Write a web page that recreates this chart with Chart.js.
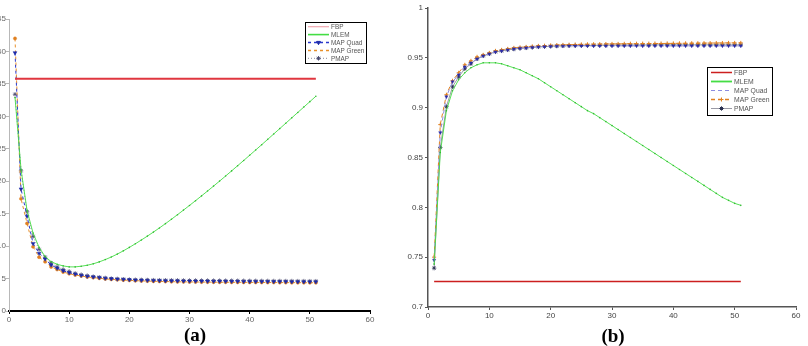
<!DOCTYPE html>
<html>
<head>
<meta charset="utf-8">
<script src="https://cdn.jsdelivr.net/npm/chart.js@4.4.1/dist/chart.umd.min.js"></script>
<style>
  html, body { margin: 0; padding: 0; background: #fff; }
  body { width: 808px; height: 346px; position: relative; overflow: hidden; }
  .cv { position: absolute; top: 0; }
  .lab { position: absolute; font-family: "Liberation Serif", "DejaVu Serif", serif; font-weight: bold; font-size: 19px; color: #000; transform: translate(-50%, -50%); }
</style>
</head>
<body>
<canvas id="chartA" class="cv" width="400" height="346" style="left:-20px;width:400px;height:346px"></canvas>
<canvas id="chartB" class="cv" width="408" height="346" style="left:400px;width:408px;height:346px"></canvas>
<div class="lab" style="left:195px;top:335px">(a)</div>
<div class="lab" style="left:613px;top:336px">(b)</div>
<script>
// ---------------- DATA ----------------
const seriesNames = ["FBP", "MLEM", "MAP Quad", "MAP Green", "PMAP"];
const iterations = [1,2,3,4,5,6,7,8,9,10,11,12,13,14,15,16,17,18,19,20,21,22,23,24,25,26,27,28,29,30,31,32,33,34,35,36,37,38,39,40,41,42,43,44,45,46,47,48,49,50,51];
const fbpRange = [1, 51];

// panel (a)
const fbpA = 35.8;
const mlemA = [32.9,21.8,15.5,12.0,9.8,8.4,7.6,7.2,6.95,6.8,6.8,6.9,7.05,7.27,7.57,7.92,8.32,8.77,9.27,9.8,10.36,10.94,11.54,12.16,12.8,13.46,14.14,14.84,15.55,16.27,17.0,17.74,18.49,19.25,20.02,20.8,21.59,22.39,23.19,24.0,24.81,25.63,26.45,27.28,28.11,28.94,29.77,30.6,31.43,32.26,33.09];
const mapQuadA = [39.8,18.8,14.6,10.4,8.9,8.0,7.1,6.6,6.2,5.9,5.7,5.5,5.35,5.25,5.15,5.05,4.98,4.92,4.87,4.82,4.78,4.75,4.72,4.7,4.68,4.66,4.64,4.63,4.62,4.61,4.6,4.6,4.59,4.58,4.58,4.57,4.56,4.56,4.55,4.55,4.54,4.54,4.53,4.53,4.52,4.52,4.51,4.51,4.5,4.5,4.5];
const mapGreenA = [42.0,17.3,13.5,9.9,8.3,7.6,6.8,6.4,6.0,5.75,5.55,5.4,5.25,5.15,5.05,4.95,4.88,4.82,4.77,4.72,4.68,4.64,4.61,4.58,4.56,4.54,4.52,4.5,4.49,4.48,4.47,4.46,4.45,4.44,4.43,4.43,4.42,4.42,4.41,4.41,4.4,4.4,4.39,4.39,4.38,4.38,4.37,4.37,4.36,4.36,4.35];
const pmapA = [33.4,21.6,15.3,11.5,9.5,8.3,7.4,6.8,6.4,6.1,5.8,5.6,5.45,5.3,5.2,5.1,5.0,4.95,4.9,4.85,4.82,4.8,4.78,4.76,4.75,4.74,4.73,4.72,4.71,4.7,4.7,4.69,4.69,4.68,4.68,4.67,4.67,4.66,4.66,4.65,4.65,4.64,4.64,4.63,4.63,4.62,4.62,4.61,4.61,4.6,4.6];
const xTicksA = [0,10,20,30,40,50,60];
const yTicksA = [0,5,10,15,20,25,30,35,40,45];

// panel (b)
const fbpB = 0.7257;
const mlemB = [0.743,0.855,0.897,0.917,0.928,0.935,0.940,0.943,0.945,0.945,0.945,0.944,0.942,0.940,0.938,0.935,0.932,0.929,0.925,0.921,0.917,0.913,0.909,0.905,0.901,0.897,0.894,0.890,0.886,0.882,0.878,0.874,0.870,0.866,0.862,0.858,0.854,0.850,0.846,0.842,0.838,0.834,0.830,0.826,0.822,0.818,0.814,0.810,0.807,0.804,0.802];
const mapQuadB = [0.747,0.875,0.911,0.926,0.933,0.941,0.945,0.949,0.952,0.954,0.956,0.957,0.958,0.959,0.9595,0.960,0.9605,0.961,0.9612,0.9615,0.9617,0.9618,0.962,0.962,0.962,0.962,0.962,0.962,0.962,0.962,0.962,0.962,0.962,0.962,0.962,0.962,0.962,0.962,0.962,0.962,0.962,0.962,0.962,0.962,0.962,0.962,0.962,0.962,0.962,0.962,0.962];
const mapGreenB = [0.750,0.883,0.913,0.927,0.935,0.943,0.947,0.951,0.953,0.955,0.957,0.958,0.959,0.960,0.9605,0.961,0.9615,0.962,0.9622,0.9625,0.9628,0.963,0.9632,0.9634,0.9635,0.9636,0.9637,0.9638,0.9639,0.964,0.964,0.9641,0.9642,0.9642,0.9643,0.9643,0.9644,0.9644,0.9645,0.9645,0.9646,0.9646,0.9647,0.9647,0.9648,0.9648,0.9649,0.9649,0.965,0.965,0.965];
const pmapB = [0.739,0.860,0.901,0.921,0.931,0.939,0.944,0.949,0.952,0.954,0.956,0.957,0.958,0.9588,0.9595,0.960,0.9605,0.961,0.9613,0.9616,0.9618,0.962,0.9622,0.9623,0.9624,0.9625,0.9626,0.9626,0.9627,0.9627,0.9628,0.9628,0.9628,0.9629,0.9629,0.9629,0.963,0.963,0.963,0.963,0.963,0.963,0.963,0.963,0.963,0.963,0.963,0.963,0.963,0.963,0.963];
const xTicksB = [0,10,20,30,40,50,60];
const yTicksB = [0.7,0.75,0.8,0.85,0.9,0.95,1];

// ---------------- HELPERS ----------------
const pts = (vals) => iterations.map((x, i) => ({ x: x, y: vals[i] }));
const flat = (v) => fbpRange.map(x => ({ x: x, y: v }));

const legendInside = {
  id: 'legendInside',
  afterDraw(chart, args, o) {
    const ctx = chart.ctx;
    ctx.save();
    ctx.fillStyle = '#fff';
    ctx.fillRect(o.x, o.y, o.w, o.h);
    ctx.strokeStyle = '#000';
    ctx.lineWidth = 1;
    ctx.strokeRect(o.x + 0.5, o.y + 0.5, o.w, o.h);
    ctx.font = o.fontSize + 'px "Liberation Sans", Arial, sans-serif';
    ctx.textBaseline = 'middle';
    chart.data.datasets.forEach((ds, i) => {
      const y = o.y + o.firstRow + i * o.rowH;
      ctx.save();
      ctx.strokeStyle = ds.legendColor || ds.borderColor;
      ctx.lineWidth = ds.legendWidth || ds.borderWidth || 1;
      ctx.setLineDash(ds.borderDash || []);
      ctx.beginPath();
      ctx.moveTo(o.x + o.lineX1, y);
      ctx.lineTo(o.x + o.lineX2, y);
      ctx.stroke();
      ctx.setLineDash([]);
      if (ds.legendMarker && Chart.helpers && Chart.helpers.drawPoint) {
        ctx.fillStyle = ds.pointBackgroundColor || ds.borderColor;
        ctx.strokeStyle = ds.pointBorderColor || ds.borderColor;
        ctx.lineWidth = 1;
        Chart.helpers.drawPoint(ctx, {
          pointStyle: ds.pointStyle, rotation: ds.pointRotation || 0,
          radius: ds.pointRadius || 2, borderWidth: 1
        }, o.x + (o.lineX1 + o.lineX2) / 2, y);
      }
      ctx.restore();
      ctx.fillStyle = o.textColor;
      ctx.fillText(ds.label, o.x + o.textX, y + 0.5);
    });
    ctx.restore();
  }
};

function fixWidth(w) { return function (s) { s.width = w; }; }
function fixHeight(h) { return function (s) { s.height = h; }; }
const fmt = (v) => String(+Number(v).toFixed(2));
const tickFont = { family: '"Liberation Sans", Arial, sans-serif', size: 8 };

function makeScales(xTicks, yTicks, yWidth, cfg) {
  return {
    x: {
      type: 'linear', min: xTicks[0], max: xTicks[xTicks.length - 1],
      afterBuildTicks: (s) => { s.ticks = xTicks.map(v => ({ value: v })); },
      afterFit: fixHeight(14),
      grid: { drawOnChartArea: false, drawTicks: true, tickLength: 3, color: cfg.xAxisColor },
      border: { display: true, color: cfg.xAxisColor, width: cfg.xAxisWidth },
      ticks: { font: tickFont, color: cfg.tickColor, padding: 1, maxRotation: 0, callback: fmt }
    },
    y: {
      type: 'linear', min: yTicks[0], max: yTicks[yTicks.length - 1],
      afterBuildTicks: (s) => { s.ticks = yTicks.map(v => ({ value: v })); },
      afterFit: fixWidth(yWidth),
      grid: { drawOnChartArea: false, drawTicks: true, tickLength: 3, color: cfg.yAxisColor },
      border: { display: true, color: cfg.yAxisColor, width: cfg.yAxisWidth },
      ticks: { font: tickFont, color: cfg.tickColor, padding: cfg.yPad, callback: fmt }
    }
  };
}

const commonOpts = {
  responsive: false, animation: false, devicePixelRatio: 1,
  elements: { line: { tension: 0 } }
};

// ---------------- CHART (a) ----------------
new Chart(document.getElementById('chartA'), {
  type: 'line',
  data: {
    datasets: [
      { label: seriesNames[0], data: flat(fbpA), borderColor: '#e0363f', borderWidth: 2, pointRadius: 0, legendColor: '#f0a8b0', legendWidth: 1.2 },
      { label: seriesNames[1], data: pts(mlemA), borderColor: '#44dd44', borderWidth: 0.9, pointRadius: 0.8, pointStyle: 'circle', pointBackgroundColor: '#33bb33', pointBorderColor: '#33bb33', pointBorderWidth: 0, legendWidth: 1.6 },
      { label: seriesNames[2], data: pts(mapQuadA), borderColor: '#2a38cc', borderWidth: 1, borderDash: [3, 3], pointRadius: 2.2, pointStyle: 'triangle', pointRotation: 180, pointBackgroundColor: '#1c2aa8', pointBorderColor: '#1c2aa8', pointBorderWidth: 0.5, legendMarker: true, legendWidth: 1.5 },
      { label: seriesNames[3], data: pts(mapGreenA), borderColor: '#e8902a', borderWidth: 1, borderDash: [3, 3], pointRadius: 1.6, pointStyle: 'circle', pointBackgroundColor: '#e08020', pointBorderColor: '#e08020', pointBorderWidth: 0.5, legendWidth: 1.5 },
      { label: seriesNames[4], data: pts(pmapA), borderColor: '#8a8a9a', borderWidth: 1, borderDash: [1, 2], pointRadius: 2.2, pointStyle: 'star', pointBackgroundColor: '#4a4a70', pointBorderColor: '#4a4a70', pointBorderWidth: 0.8, legendMarker: true, legendWidth: 1 }
    ]
  },
  options: Object.assign({}, commonOpts, {
    layout: { padding: { top: 19, right: 10, bottom: 21, left: 0 } },
    scales: makeScales(xTicksA, yTicksA, 29, { xAxisColor: '#000', xAxisWidth: 2, yAxisColor: '#b8b8b8', yAxisWidth: 1, tickColor: '#666', yPad: 0 }),
    plugins: {
      legend: { display: false }, tooltip: { enabled: false },
      legendInside: { x: 325, y: 22, w: 61, h: 41, firstRow: 4.7, rowH: 7.9, lineX1: 3, lineX2: 24, textX: 26, fontSize: 6.4, textColor: '#555' }
    }
  }),
  plugins: [legendInside]
});

// ---------------- CHART (b) ----------------
new Chart(document.getElementById('chartB'), {
  type: 'line',
  data: {
    datasets: [
      { label: seriesNames[0], data: flat(fbpB), borderColor: '#cc1f1f', borderWidth: 1.5, pointRadius: 0, legendWidth: 1.5 },
      { label: seriesNames[1], data: pts(mlemB), borderColor: '#44dd44', borderWidth: 0.9, pointRadius: 0.8, pointStyle: 'circle', pointBackgroundColor: '#33bb33', pointBorderColor: '#33bb33', pointBorderWidth: 0, legendWidth: 1.8 },
      { label: seriesNames[2], data: pts(mapQuadB), borderColor: '#8c8ce0', borderWidth: 1, borderDash: [4, 3], pointRadius: 1.8, pointStyle: 'triangle', pointRotation: 180, pointBackgroundColor: '#2a2aa8', pointBorderColor: '#2a2aa8', pointBorderWidth: 0.5, legendWidth: 1 },
      { label: seriesNames[3], data: pts(mapGreenB), borderColor: '#e08020', borderWidth: 1, borderDash: [4, 3], pointRadius: 2, pointStyle: 'cross', pointBackgroundColor: '#e08020', pointBorderColor: '#e08020', pointBorderWidth: 1, legendMarker: true, legendWidth: 1.5 },
      { label: seriesNames[4], data: pts(pmapB), borderColor: '#9a9aa6', borderWidth: 1, pointRadius: 2.2, pointStyle: 'star', pointBackgroundColor: '#2a3050', pointBorderColor: '#2a3050', pointBorderWidth: 0.8, legendMarker: true, legendWidth: 1 }
    ]
  },
  options: Object.assign({}, commonOpts, {
    layout: { padding: { top: 8, right: 12, bottom: 25, left: 0 } },
    scales: makeScales(xTicksB, yTicksB, 28, { xAxisColor: '#555', xAxisWidth: 1.5, yAxisColor: '#555', yAxisWidth: 1.5, tickColor: '#444', yPad: 2 }),
    plugins: {
      legend: { display: false }, tooltip: { enabled: false },
      legendInside: { x: 307, y: 67, w: 65, h: 48, firstRow: 5.5, rowH: 9, lineX1: 4, lineX2: 25, textX: 27, fontSize: 6.8, textColor: '#555' }
    }
  }),
  plugins: [legendInside]
});
</script>
</body>
</html>
